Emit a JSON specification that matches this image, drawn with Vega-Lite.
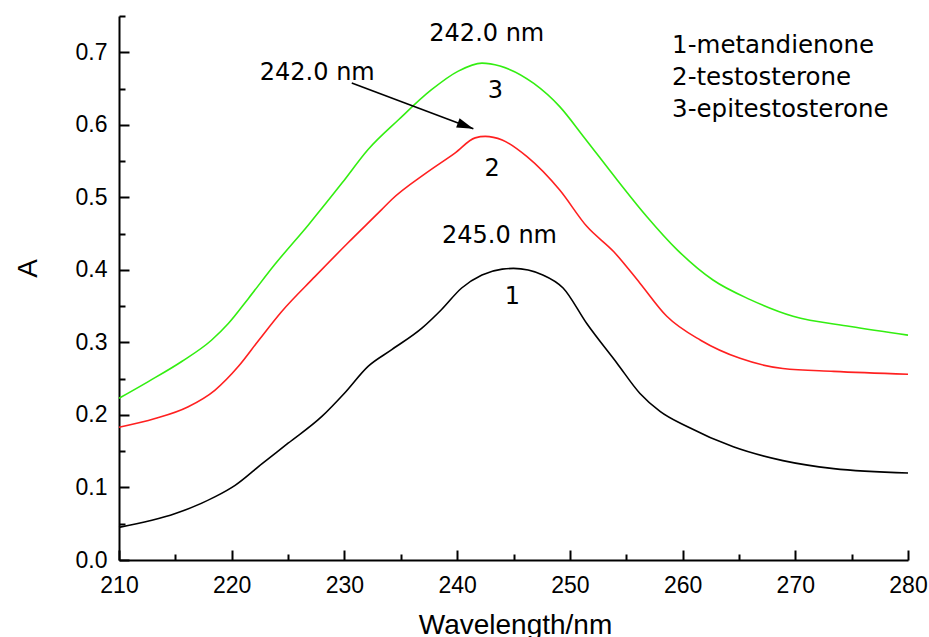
{
  "$schema": "https://vega.github.io/schema/vega-lite/v6.json",
  "width": 789,
  "height": 544,
  "autosize": {"type": "none"},
  "padding": {"left": 119, "top": 16, "right": 21, "bottom": 77},
  "background": "white",
  "config": {"view": {"stroke": null}},
  "datasets": {
    "curves": [
      {"s": "1", "x": 210.0, "y": 0.045}, {"s": "1", "x": 215.0, "y": 0.064}, {"s": "1", "x": 218.5, "y": 0.087}, {"s": "1", "x": 220.3, "y": 0.103}, {"s": "1", "x": 222.7, "y": 0.133}, {"s": "1", "x": 225.0, "y": 0.161}, {"s": "1", "x": 228.0, "y": 0.198}, {"s": "1", "x": 230.0, "y": 0.230}, {"s": "1", "x": 232.1, "y": 0.267}, {"s": "1", "x": 234.2, "y": 0.290}, {"s": "1", "x": 236.9, "y": 0.320}, {"s": "1", "x": 238.6, "y": 0.345}, {"s": "1", "x": 240.4, "y": 0.375}, {"s": "1", "x": 242.2, "y": 0.393}, {"s": "1", "x": 244.0, "y": 0.401}, {"s": "1", "x": 245.0, "y": 0.402}, {"s": "1", "x": 247.6, "y": 0.393}, {"s": "1", "x": 249.4, "y": 0.375}, {"s": "1", "x": 251.5, "y": 0.326}, {"s": "1", "x": 254.2, "y": 0.271}, {"s": "1", "x": 256.2, "y": 0.230}, {"s": "1", "x": 258.0, "y": 0.205}, {"s": "1", "x": 260.4, "y": 0.184}, {"s": "1", "x": 264.5, "y": 0.156}, {"s": "1", "x": 268.9, "y": 0.137}, {"s": "1", "x": 273.4, "y": 0.126}, {"s": "1", "x": 280.0, "y": 0.120},
      {"s": "2", "x": 210.0, "y": 0.183}, {"s": "2", "x": 213.2, "y": 0.195}, {"s": "2", "x": 216.1, "y": 0.211}, {"s": "2", "x": 218.5, "y": 0.234}, {"s": "2", "x": 220.6, "y": 0.267}, {"s": "2", "x": 222.4, "y": 0.303}, {"s": "2", "x": 224.4, "y": 0.342}, {"s": "2", "x": 227.4, "y": 0.391}, {"s": "2", "x": 230.3, "y": 0.437}, {"s": "2", "x": 233.3, "y": 0.483}, {"s": "2", "x": 234.2, "y": 0.497}, {"s": "2", "x": 237.2, "y": 0.533}, {"s": "2", "x": 239.8, "y": 0.561}, {"s": "2", "x": 241.6, "y": 0.582}, {"s": "2", "x": 242.5, "y": 0.584}, {"s": "2", "x": 244.0, "y": 0.579}, {"s": "2", "x": 246.2, "y": 0.556}, {"s": "2", "x": 249.1, "y": 0.510}, {"s": "2", "x": 251.5, "y": 0.460}, {"s": "2", "x": 253.9, "y": 0.425}, {"s": "2", "x": 256.2, "y": 0.382}, {"s": "2", "x": 258.6, "y": 0.336}, {"s": "2", "x": 261.6, "y": 0.303}, {"s": "2", "x": 265.1, "y": 0.278}, {"s": "2", "x": 268.9, "y": 0.264}, {"s": "2", "x": 273.4, "y": 0.260}, {"s": "2", "x": 280.0, "y": 0.256},
      {"s": "3", "x": 210.0, "y": 0.223}, {"s": "3", "x": 212.6, "y": 0.246}, {"s": "3", "x": 215.6, "y": 0.274}, {"s": "3", "x": 218.2, "y": 0.303}, {"s": "3", "x": 219.7, "y": 0.326}, {"s": "3", "x": 221.5, "y": 0.361}, {"s": "3", "x": 223.8, "y": 0.407}, {"s": "3", "x": 226.8, "y": 0.462}, {"s": "3", "x": 229.8, "y": 0.520}, {"s": "3", "x": 232.1, "y": 0.566}, {"s": "3", "x": 234.8, "y": 0.607}, {"s": "3", "x": 237.7, "y": 0.648}, {"s": "3", "x": 240.1, "y": 0.674}, {"s": "3", "x": 242.2, "y": 0.685}, {"s": "3", "x": 243.8, "y": 0.681}, {"s": "3", "x": 246.8, "y": 0.657}, {"s": "3", "x": 249.1, "y": 0.625}, {"s": "3", "x": 251.2, "y": 0.584}, {"s": "3", "x": 254.2, "y": 0.524}, {"s": "3", "x": 256.8, "y": 0.474}, {"s": "3", "x": 259.5, "y": 0.428}, {"s": "3", "x": 262.7, "y": 0.386}, {"s": "3", "x": 266.0, "y": 0.359}, {"s": "3", "x": 269.8, "y": 0.336}, {"s": "3", "x": 274.9, "y": 0.322}, {"s": "3", "x": 280.0, "y": 0.310}
    ],
    "labels": [
      {"t": "242.0 nm", "x": 242.63, "y": 0.716},
      {"t": "242.0 nm", "x": 227.59, "y": 0.662},
      {"t": "3", "x": 243.4, "y": 0.637},
      {"t": "2", "x": 243.1, "y": 0.529},
      {"t": "245.0 nm", "x": 243.76, "y": 0.437},
      {"t": "1", "x": 244.9, "y": 0.353}
    ],
    "legend": [
      {"t": "1-metandienone", "x": 259.07, "y": 0.699},
      {"t": "2-testosterone", "x": 259.07, "y": 0.655},
      {"t": "3-epitestosterone", "x": 259.07, "y": 0.611}
    ],
    "arrow": [
      {"x": 230.65, "y": 0.6575, "x2": 241.44, "y2": 0.5945}
    ]
  },
  "encoding": {
    "x": {
      "field": "x", "type": "quantitative",
      "scale": {"domain": [210, 280], "nice": false, "zero": false},
      "axis": {
        "title": "Wavelength/nm",
        "values": [210, 215, 220, 225, 230, 235, 240, 245, 250, 255, 260, 265, 270, 275, 280],
        "labelExpr": "datum.value % 10 === 0 ? datum.label : ''",
        "tickSize": {"condition": {"test": "datum.value % 10 === 0", "value": -10}, "value": -6},
        "tickWidth": 2, "tickColor": "black",
        "domainColor": "black", "domainWidth": 2,
        "grid": false,
        "labelFont": "Liberation Sans", "labelFontSize": 23, "labelColor": "black",
        "labelPadding": 24, "labelFlush": false, "labelOverlap": false,
        "titleFont": "Liberation Sans", "titleFontSize": 28, "titleFontWeight": "normal", "titleColor": "black",
        "titleX": 396, "titleY": 73, "titleBaseline": "alphabetic", "titleAlign": "center"
      }
    },
    "y": {
      "field": "y", "type": "quantitative",
      "scale": {"domain": [0, 0.75], "nice": false},
      "axis": {
        "title": "A",
        "values": [0, 0.05, 0.1, 0.15, 0.2, 0.25, 0.3, 0.35, 0.4, 0.45, 0.5, 0.55, 0.6, 0.65, 0.7, 0.75],
        "labelExpr": "round(datum.value * 100) % 10 === 0 ? format(datum.value, '.1f') : ''",
        "tickSize": {"condition": {"test": "round(datum.value * 100) % 10 === 0", "value": -10}, "value": -6},
        "tickWidth": 2, "tickColor": "black",
        "domainColor": "black", "domainWidth": 2,
        "grid": false,
        "labelFont": "Liberation Sans", "labelFontSize": 23, "labelColor": "black",
        "labelPadding": 22, "labelFlush": false, "labelOverlap": false,
        "titleFont": "Liberation Sans", "titleFontSize": 28, "titleFontWeight": "normal", "titleColor": "black",
        "titleX": -91, "titleY": 252, "titleBaseline": "middle", "titleAlign": "center", "titleAngle": -90
      }
    }
  },
  "layer": [
    {
      "data": {"name": "curves"},
      "mark": {"type": "line", "strokeWidth": 1.6, "interpolate": "monotone"},
      "encoding": {
        "color": {"field": "s", "type": "nominal", "scale": {"domain": ["1", "2", "3"], "range": ["#000000", "#ff2020", "#33ee11"]}, "legend": null}
      }
    },
    {
      "data": {"name": "arrow"},
      "mark": {"type": "rule", "color": "black", "strokeWidth": 1.6},
      "encoding": {"x2": {"field": "x2"}, "y2": {"field": "y2"}}
    },
    {
      "data": {"name": "arrow"},
      "mark": {"type": "point", "filled": true, "color": "black", "opacity": 1, "shape": "M0,0L-1,-0.3L-1,0.3Z", "size": 1100, "angle": 20.6},
      "encoding": {"x": {"field": "x2", "type": "quantitative"}, "y": {"field": "y2", "type": "quantitative"}}
    },
    {
      "data": {"name": "labels"},
      "mark": {"type": "text", "font": "DejaVu Sans", "fontSize": 24, "color": "black", "align": "center", "baseline": "alphabetic"},
      "encoding": {"text": {"field": "t"}}
    },
    {
      "data": {"name": "legend"},
      "mark": {"type": "text", "font": "DejaVu Sans", "fontSize": 24.5, "color": "black", "align": "left", "baseline": "alphabetic"},
      "encoding": {"text": {"field": "t"}}
    }
  ]
}
